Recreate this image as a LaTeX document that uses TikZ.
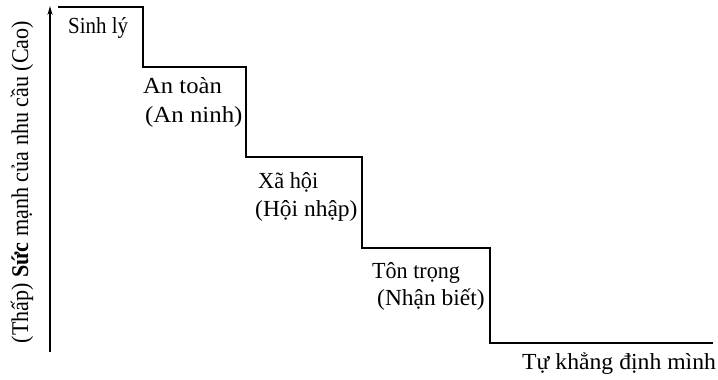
\documentclass[tikz,border=0pt]{standalone}
\usepackage{fontspec}
\usepackage{graphicx}
\setmainfont{Liberation Serif}
\usetikzlibrary{arrows.meta}
% horizontally stretched text
\newcommand{\hstretch}[2]{\scalebox{#1}[1]{#2}}
\begin{document}
\begin{tikzpicture}[x=1pt,y=-1pt,
  stair/.style={line width=1.7pt, line join=miter},
  axisline/.style={line width=1.7pt, -{Stealth[length=9pt,width=5pt]}},
  lbl/.style={font=\fontsize{23}{25}\selectfont, inner sep=0pt, anchor=base west},
  axlbl/.style={font=\fontsize{24}{26}\selectfont, inner sep=0pt, rotate=90},
]
\useasboundingbox (0,0) rectangle (718,380);

% vertical axis
\coordinate (axb) at (50,352);
\coordinate (axt) at (50,6);
\draw[axisline] (axb) -- (axt);
\node[axlbl] (ylabel) at (22,182) {\hstretch{0.92}{(Thấp) \textbf{Sức} mạnh của nhu cầu (Cao)}};

% the staircase of needs
\coordinate (p0) at (58,7);
\coordinate (p1) at (143,67);
\coordinate (p2) at (246,157);
\coordinate (p3) at (362,248);
\coordinate (p4) at (490,343);
\coordinate (p5) at (713,343);
\draw[stair] (p0) -| (p1) -| (p2) -| (p3) -| (p4) -- (p5);

% step labels
\node[lbl] (sinhly) at (68,33) {\hstretch{0.91}{Sinh lý}};
\node[lbl] (antoan) at (143,93) {\hstretch{1.07}{An toàn}};
\node[lbl] (anninh) at (145,122) {\hstretch{1.08}{(An ninh)}};
\node[lbl] (xahoi) at (258,188) {\hstretch{0.97}{Xã hội}};
\node[lbl] (hoinhap) at (255,216) {\hstretch{1.02}{(Hội nhập)}};
\node[lbl] (tontrong) at (372,278) {\hstretch{0.96}{Tôn trọng}};
\node[lbl] (nhanbiet) at (377,305) {\hstretch{1.02}{(Nhận biết)}};
\node[lbl] (tukhangdinh) at (522,369) {\hstretch{1.03}{Tự khẳng định mình}};
\end{tikzpicture}
\end{document}
